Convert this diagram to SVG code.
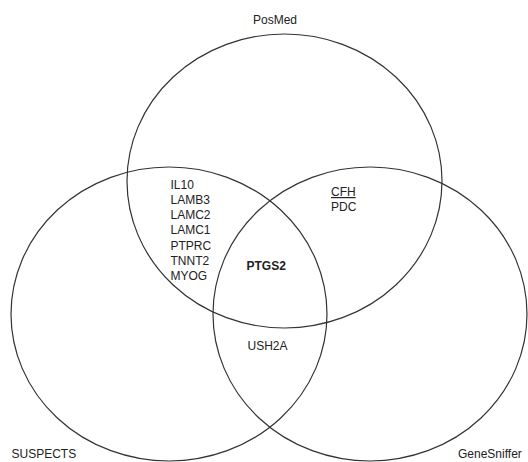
<svg xmlns="http://www.w3.org/2000/svg" width="528" height="462" viewBox="0 0 528 462">
<style>
.set{fill:none;stroke:#333;stroke-width:1.2}
text{font-family:"Liberation Sans",Arial,sans-serif;font-size:12px;fill:#222}
.b{font-weight:bold}
</style>
<rect width="528" height="462" fill="#fff"/>
<g id="posmed">
<ellipse class="set" cx="284.5" cy="181" rx="157.5" ry="147"/>
<text x="275" y="24" text-anchor="middle">PosMed</text>
</g>
<g id="suspects">
<ellipse class="set" cx="169" cy="314" rx="158" ry="147"/>
<text x="11.5" y="457.5">SUSPECTS</text>
</g>
<g id="genesniffer">
<ellipse class="set" cx="370" cy="314" rx="157" ry="147"/>
<text x="458" y="457.5" font-size="11.5">GeneSniffer</text>
</g>
<g id="suspects-posmed">
<text x="170.5" y="188.5">IL10</text>
<text x="170.5" y="203.8">LAMB3</text>
<text x="170.5" y="219.1">LAMC2</text>
<text x="170.5" y="234.4">LAMC1</text>
<text x="170.5" y="249.7">PTPRC</text>
<text x="170.5" y="265">TNNT2</text>
<text x="170.5" y="280.3">MYOG</text>
</g>
<g id="posmed-genesniffer">
<text x="331" y="196" text-decoration="underline">CFH</text>
<text x="331" y="211">PDC</text>
</g>
<g id="all-three">
<text class="b" x="246.5" y="269.5">PTGS2</text>
</g>
<g id="suspects-genesniffer">
<text x="247.5" y="350">USH2A</text>
</g>
<g id="connectors"></g>
</svg>
